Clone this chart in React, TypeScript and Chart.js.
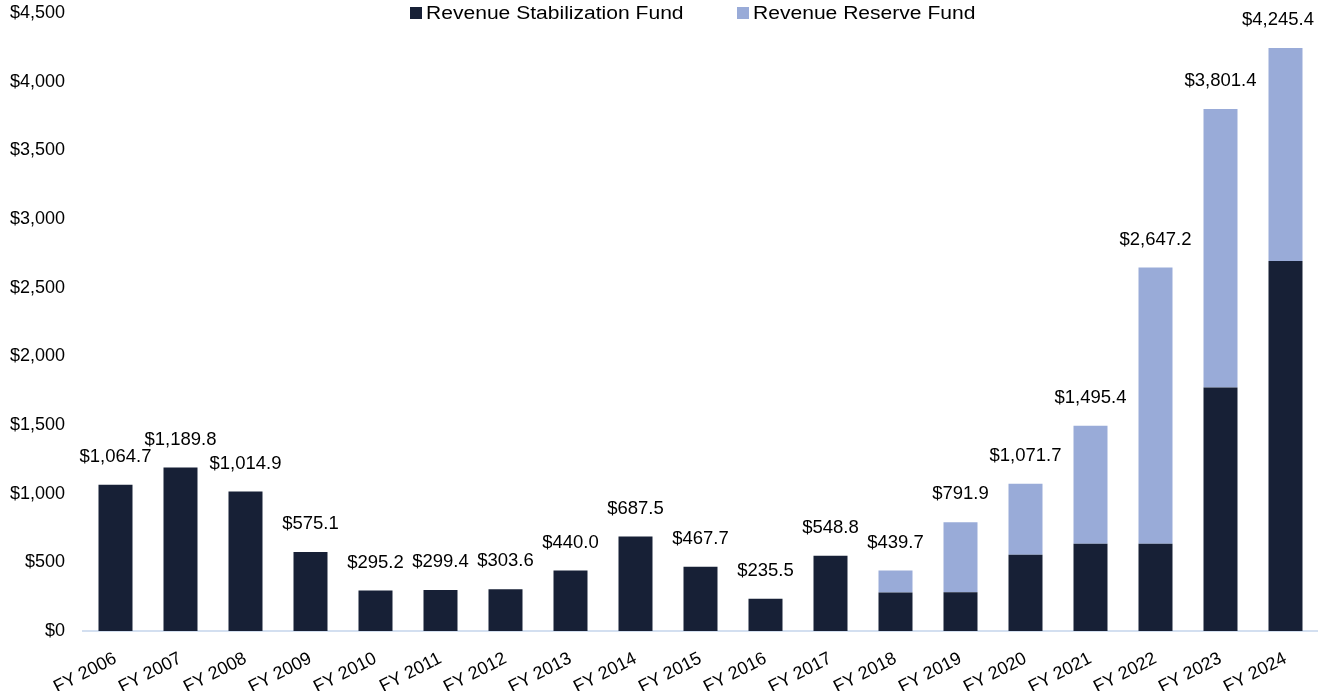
import React, { useEffect, useRef } from "react";
import { Chart, registerables } from "chart.js";

Chart.register(...registerables);

const categories = [
  "FY 2006", "FY 2007", "FY 2008", "FY 2009", "FY 2010", "FY 2011", "FY 2012",
  "FY 2013", "FY 2014", "FY 2015", "FY 2016", "FY 2017", "FY 2018", "FY 2019",
  "FY 2020", "FY 2021", "FY 2022", "FY 2023", "FY 2024",
];

const stabilizationFund = [
  1064.7, 1189.8, 1014.9, 575.1, 295.2, 299.4, 303.6, 440.0, 687.5, 467.7,
  235.5, 548.8, 280.4, 282.6, 555.1, 635.2, 635.2, 1773.8, 2693.8,
];

const reserveFund = [
  0, 0, 0, 0, 0, 0, 0, 0, 0, 0, 0, 0, 159.3, 509.3, 516.6, 860.2, 2012.0, 2027.6, 1551.6,
];

const seriesNames = ["Revenue Stabilization Fund", "Revenue Reserve Fund"];
const seriesColors = ["#172036", "#99ABD8"];

const yMin = 0;
const yMax = 4500;
const yStep = 500;

const FONT = "'Liberation Sans', Arial, Helvetica, sans-serif";

const fmtMoney = (v: number) =>
  "$" + v.toLocaleString("en-US", { minimumFractionDigits: 1, maximumFractionDigits: 1 });

const totalLabelsPlugin = {
  id: "totalLabels",
  afterDatasetsDraw(chart: any) {
    const { ctx } = chart;
    const xs = chart.scales.x;
    const ys = chart.scales.y;
    ctx.save();
    ctx.font = `18.5px ${FONT}`;
    ctx.fillStyle = "#000000";
    ctx.textAlign = "center";
    ctx.textBaseline = "middle";
    categories.forEach((_, i) => {
      const total = stabilizationFund[i] + reserveFund[i];
      const text = fmtMoney(total);
      const w = ctx.measureText(text).width;
      let x = xs.getPixelForValue(i);
      const maxX = chart.width - w / 2 - 4;
      if (x > maxX) x = maxX;
      const y = ys.getPixelForValue(total) - 28;
      ctx.fillText(text, x, y);
    });
    ctx.restore();
  },
};

export default function App() {
  const canvasRef = useRef<HTMLCanvasElement | null>(null);

  useEffect(() => {
    if (!canvasRef.current) return;
    const chart = new Chart(canvasRef.current, {
      type: "bar",
      data: {
        labels: categories,
        datasets: [
          {
            label: seriesNames[0],
            data: stabilizationFund,
            backgroundColor: seriesColors[0],
            barPercentage: 0.523,
            categoryPercentage: 1,
          },
          {
            label: seriesNames[1],
            data: reserveFund,
            backgroundColor: seriesColors[1],
            barPercentage: 0.523,
            categoryPercentage: 1,
          },
        ],
      },
      options: {
        animation: false,
        responsive: true,
        maintainAspectRatio: false,
        layout: { autoPadding: false, padding: { top: 13, left: 9, right: 0, bottom: 0 } },
        font: { family: FONT },
        plugins: {
          legend: { display: false },
          tooltip: { enabled: false },
        },
        scales: {
          x: {
            stacked: true,
            grid: { display: false, drawTicks: false },
            border: { display: true, color: "#D3DFF0", width: 2 },
            ticks: {
              autoSkip: false,
              maxRotation: 27,
              minRotation: 27,
              padding: 17,
              color: "#000000",
              font: { family: FONT, size: 18 },
            },
            afterFit(scale: any) {
              scale.paddingLeft = 0;
              scale.paddingRight = 0;
              scale.height = 60;
            },
          },
          y: {
            stacked: true,
            min: yMin,
            max: yMax,
            grid: { display: false, drawTicks: false },
            border: { display: false },
            ticks: {
              stepSize: yStep,
              padding: 18,
              color: "#000000",
              font: { family: FONT, size: 18 },
              callback: (v: any) => "$" + Number(v).toLocaleString("en-US"),
            },
            afterFit(scale: any) {
              scale.paddingTop = 0;
              scale.paddingBottom = 0;
              scale.width = 74;
            },
          },
        },
      } as any,
      plugins: [totalLabelsPlugin],
    });
    return () => chart.destroy();
  }, []);

  return (
    <div style={{ position: "fixed", left: 0, top: 0, width: 1318, height: 691, background: "#fff" }}>
      <canvas ref={canvasRef} />
      <div
        style={{
          position: "absolute",
          left: 410,
          top: 3,
          display: "flex",
          alignItems: "center",
          fontFamily: FONT,
          fontSize: 18,
          lineHeight: "20px",
          color: "#000",
          whiteSpace: "nowrap",
        }}
      >
        {seriesNames.map((name, i) => (
          <div key={name} style={{ display: "flex", alignItems: "center", marginRight: i === 0 ? 54 : 0 }}>
            <span style={{ display: "inline-block", width: 12, height: 12, background: seriesColors[i], marginRight: 4 }} />
            <span style={{ display: "inline-block", transform: "scaleX(1.17)", transformOrigin: "left center", width: name === seriesNames[0] ? 257 : 222 }}>{name}</span>
          </div>
        ))}
      </div>
    </div>
  );
}
